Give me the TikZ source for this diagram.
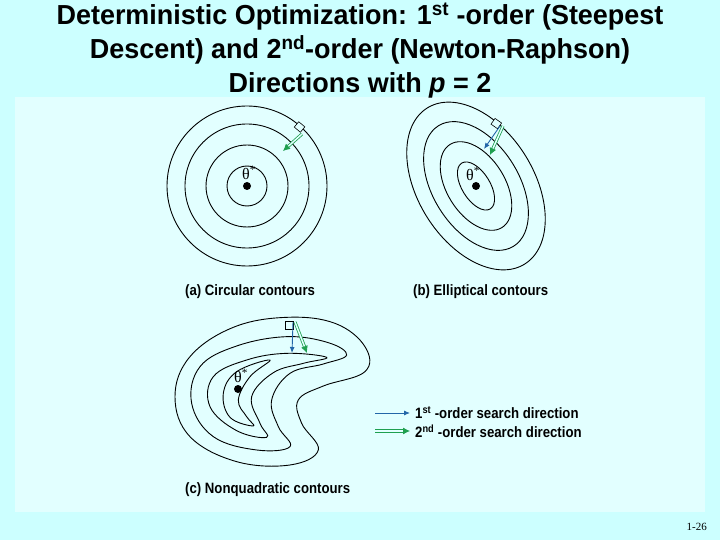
\documentclass[tikz,border=0pt]{standalone}
\usepackage{fontspec}
\setmainfont{Liberation Sans}
\newfontfamily\serifm{Liberation Serif}
\usetikzlibrary{arrows,arrows.meta}
\definecolor{slidebg}{HTML}{CCFFFF}
\definecolor{panelbg}{HTML}{E2FFFF}
\definecolor{gr}{HTML}{1FA050}
\definecolor{bl}{HTML}{2366A8}
\begin{document}
\begin{tikzpicture}[x=1pt,y=-1pt,
  cont/.style={black,line width=0.9pt},
  captxt/.style={anchor=west,font=\bfseries\fontsize{15}{17}\selectfont,xscale=0.88,inner sep=0},
  first/.style={bl,line width=0.9pt,-{Latex[length=6pt,width=5pt]}},
  second/.style={gr,double=panelbg,double distance=1.5pt,line width=0.8pt,-{Latex[length=7pt,width=7pt]}},
  sq/.style={black,line width=0.6pt,fill=panelbg},
  dot/.style={circle,fill=black,inner sep=0,minimum size=8pt},
  lab/.style={font=\serifm\fontsize{16}{16}\selectfont,inner sep=0}]
\fill[slidebg] (0,0) rectangle (720,540);
\fill[panelbg] (15,97) rectangle (705,512);
\node[font=\bfseries\fontsize{27.5}{34}\selectfont,align=center,xscale=0.98] (title) at (360,51)
 {Deterministic Optimization: 1\textsuperscript{st} -order (Steepest\\
  Descent) and 2\textsuperscript{nd}-order (Newton-Raphson)\\
  Directions with \textit{p} = 2};
% (a)
\foreach \r in {80,62,41,20} \draw[cont] (247,186) circle (\r);
\node[dot] (da) at (247,186) {};
\node[lab] (ta) at (249,173) {θ\textsuperscript{*}};
\draw[sq,rotate around={-40:(300,128)}] (295,124) rectangle (303,131);
\coordinate (a0) at (302,134); \coordinate (a1) at (283,151);
\draw[second] (a0) -- (a1);
\node[captxt] (ca) at (185,292) {(a) Circular contours};
% (b)
\foreach \a/\b in {92/58,71/43,49/29,27/14}
  \draw[cont,rotate around={-58:(476,186)}] (476,186) ellipse ({\a} and {\b});
\node[dot] (db) at (476,186) {};
\node[lab] (tb) at (473,174) {θ\textsuperscript{*}};
\draw[sq,rotate around={-35:(496,124)}] (492,120) rectangle (500,127);
\coordinate (b0) at (500,126); \coordinate (b1) at (484,149);
\coordinate (b2) at (503,126); \coordinate (b3) at (490,155);
\draw[first] (b0) -- (b1);
\draw[second] (b2) -- (b3);
\node[captxt] (cb) at (413,292) {(b) Elliptical contours};
% (c)
\begin{scope}[shift={(170pt,-310pt)},x=0.3333pt,y=-0.3333pt]
\draw[cont] plot[smooth cycle,tension=0.65] coordinates {(350,22)(495,40)(585,110)(585,185)(460,228)(385,270)(395,340)(445,420)(360,465)(200,455)(60,380)(15,260)(60,140)(190,52)};
\draw[cont] plot[smooth cycle,tension=0.65] coordinates {(350,80)(475,98)(530,135)(460,162)(360,190)(305,270)(325,350)(360,410)(260,420)(130,380)(65,280)(90,170)(200,108)};
\draw[cont] plot[smooth cycle,tension=0.65] coordinates {(350,130)(470,142)(400,160)(310,188)(245,260)(270,340)(290,382)(200,362)(120,290)(130,200)(230,150)};
\draw[cont] plot[smooth cycle,tension=0.65] coordinates {(300,150)(240,200)(205,270)(230,320)(250,348)(180,322)(160,250)(200,185)};
\end{scope}
\node[dot] (dc) at (238,389) {};
\node[lab] (tc) at (241,376) {θ\textsuperscript{*}};
\draw[sq] (285,321) rectangle (293,329);
\coordinate (c0) at (293,322); \coordinate (c1) at (292,353);
\coordinate (c2) at (295,322); \coordinate (c3) at (307,353);
\draw[first] (c0) -- (c1);
\draw[second] (c2) -- (c3);
\node[captxt] (cc) at (185,490) {(c) Nonquadratic contours};
% legend
\coordinate (l0) at (375,413); \coordinate (l1) at (410,413);
\coordinate (l2) at (375,431); \coordinate (l3) at (410,431);
\draw[first] (l0) -- (l1);
\draw[second] (l2) -- (l3);
\node[captxt] (t1) at (415,413) {1\textsuperscript{st} -order search direction};
\node[captxt] (t2) at (415,431) {2\textsuperscript{nd} -order search direction};
\node[anchor=east,font=\serifm\fontsize{11}{11}\selectfont,inner sep=0] (pg) at (707,527) {1-26};
\end{tikzpicture}
\end{document}
